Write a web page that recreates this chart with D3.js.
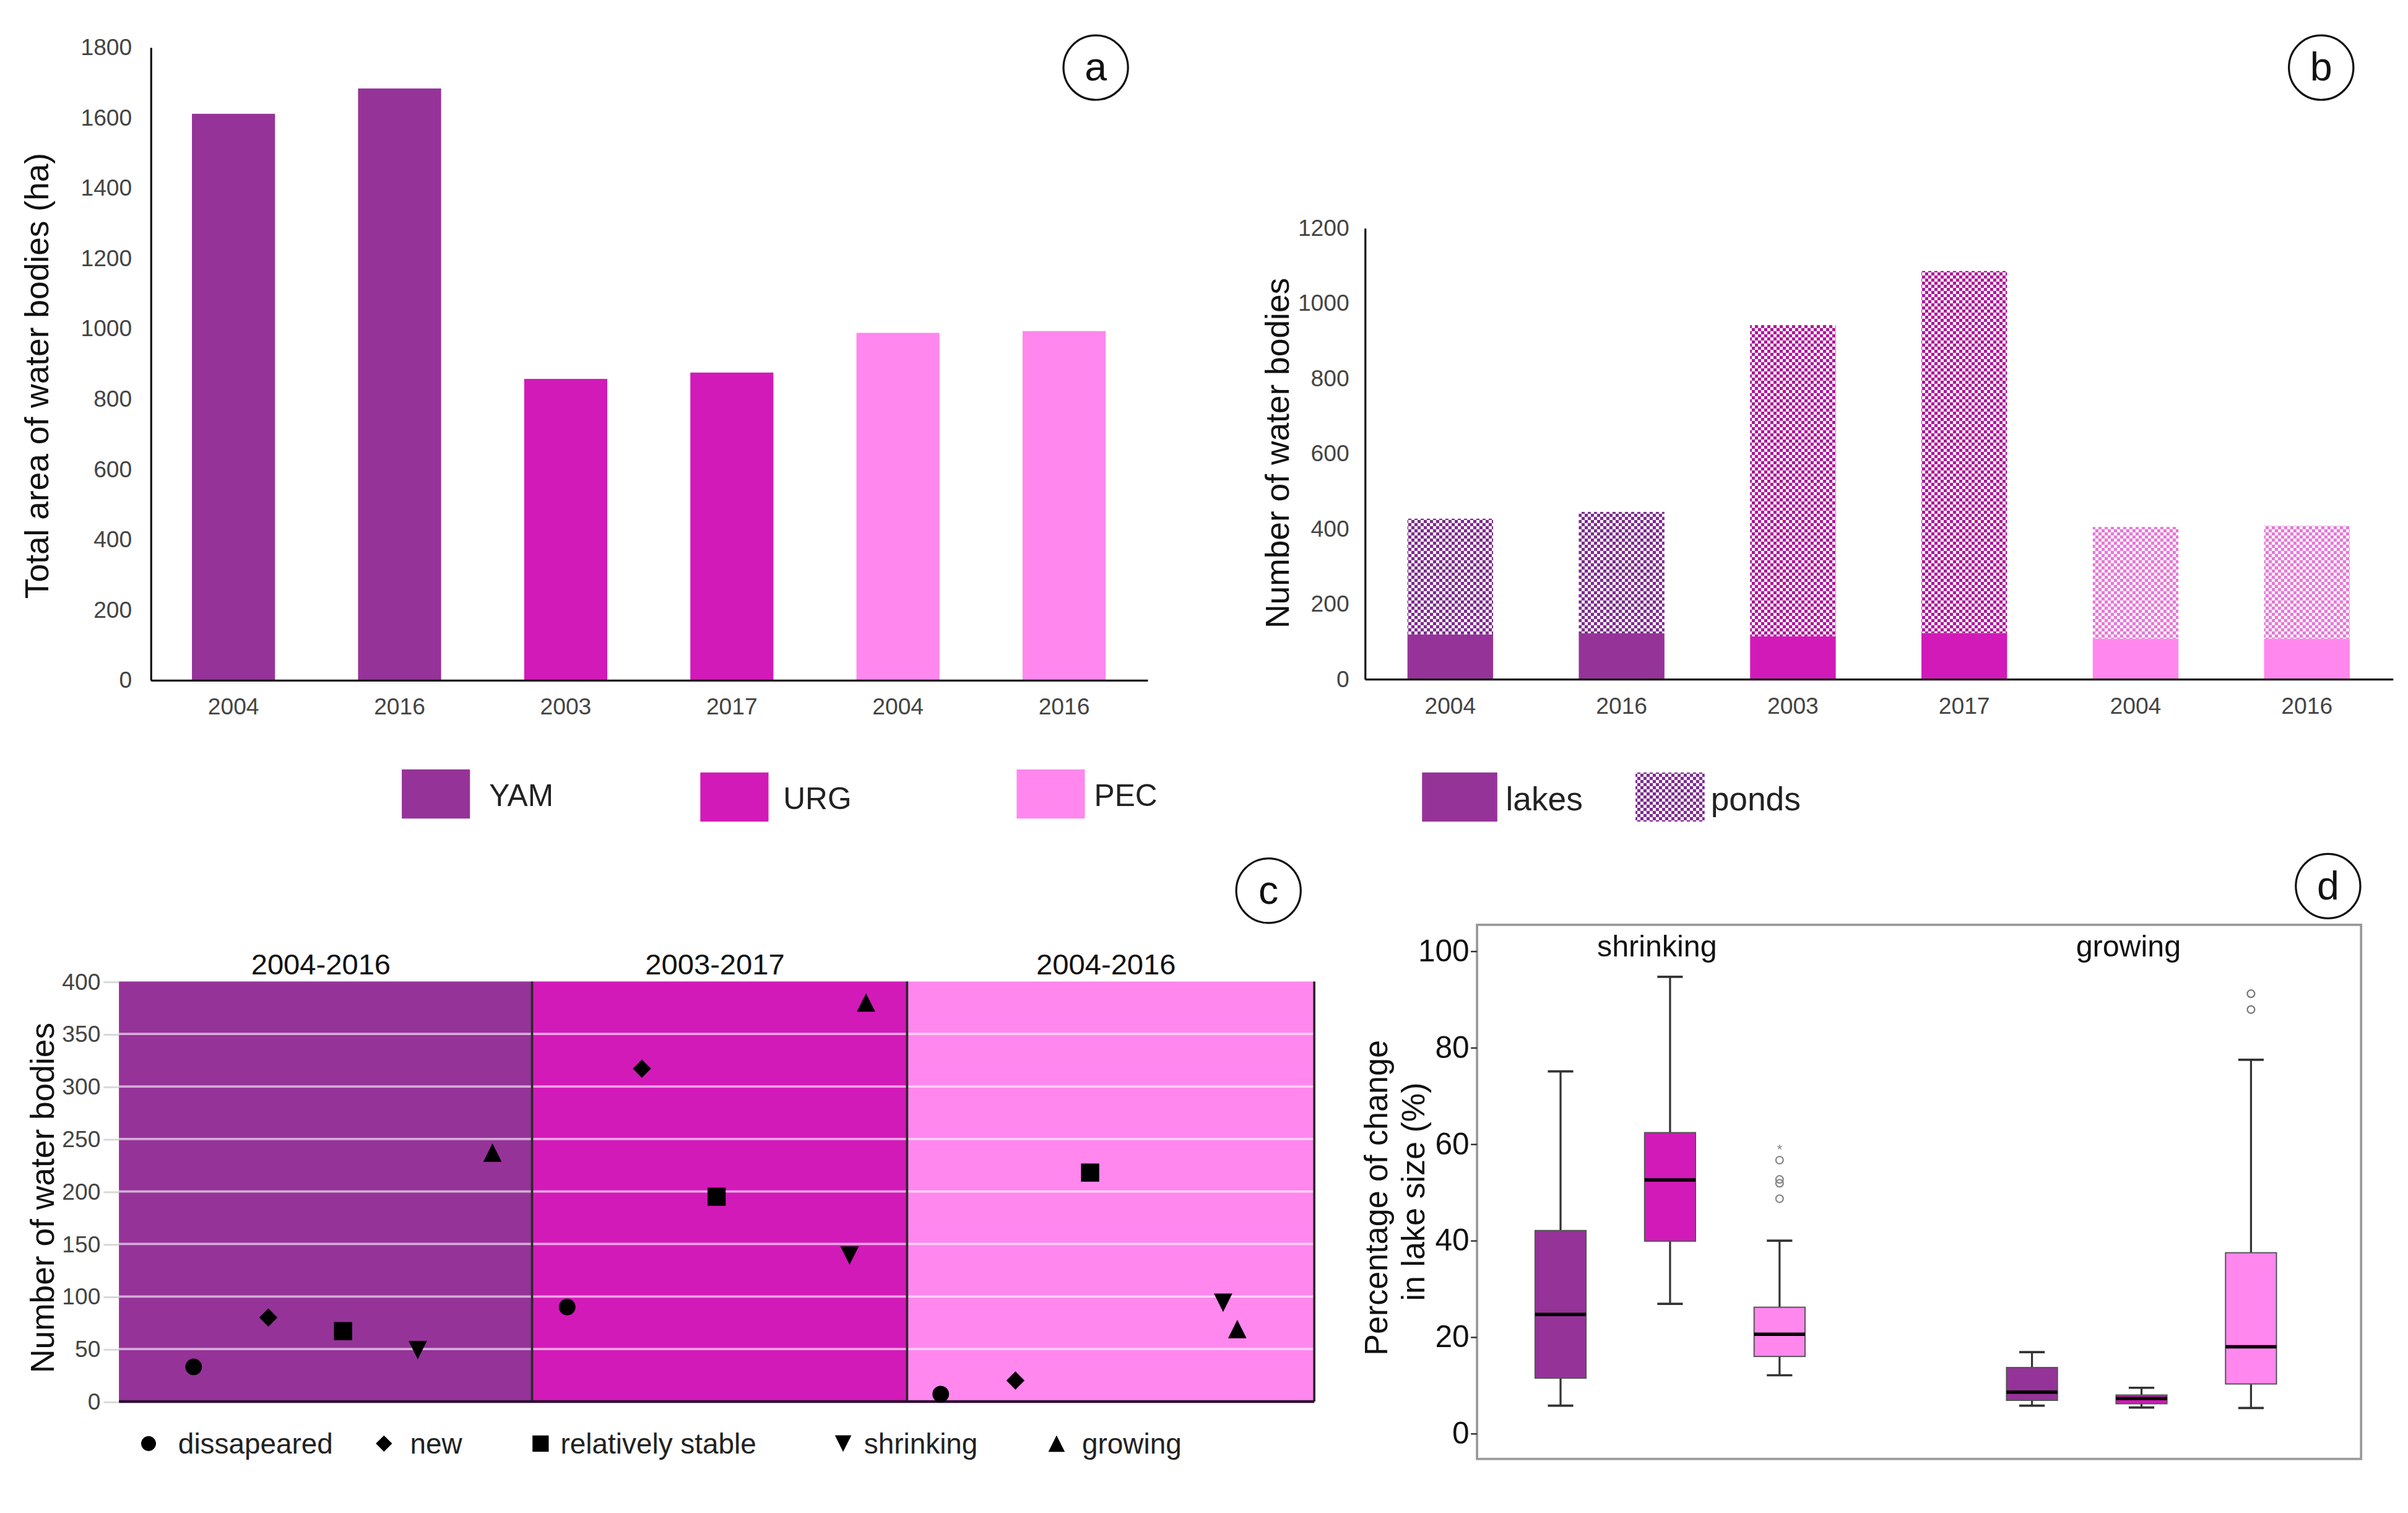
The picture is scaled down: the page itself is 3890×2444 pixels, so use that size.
<!DOCTYPE html>
<html>
<head>
<meta charset="utf-8">
<script src="https://cdn.jsdelivr.net/npm/d3@7"></script>
<style>
  html, body { margin: 0; padding: 0; background: #fff; }
  svg { display: block; font-family: "Liberation Sans", Arial, sans-serif; }
</style>
</head>
<body>
<script>
// ---- panels a and b: one bar per region and year
var years = ["2004", "2016", "2003", "2017", "2004", "2016"];
var yearRegion = ["YAM", "YAM", "URG", "URG", "PEC", "PEC"];
var regionNames = ["YAM", "URG", "PEC"];
var totalArea = [1610, 1682, 856, 874, 987, 992];          // ha
var lakeCounts = [118, 121, 113, 122, 107, 107];
var pondCounts = [308, 323, 828, 963, 297, 300];
var areaTicks = [0, 200, 400, 600, 800, 1000, 1200, 1400, 1600, 1800];
var countTicks = [0, 200, 400, 600, 800, 1000, 1200];

// ---- panel c: water bodies by change type
var periodLabels = ["2004-2016", "2003-2017", "2004-2016"];
var changeTypes = ["dissapeared", "new", "relatively stable", "shrinking", "growing"];
var yamChange = [33, 80, 67, 49, 237];
var urgChange = [90, 317, 195, 139, 380];
var pecChange = [7, 20, 218, 94, 69];
var yamOrder = [1, 2, 3, 4, 5];
var urgOrder = [6, 7, 8, 9.78, 10];
var pecOrder = [11, 12, 13, 14.78, 14.97];
var periodBreaks = [0, 5.53, 10.55, 16];
var changeTicks = [0, 50, 100, 150, 200, 250, 300, 350, 400];

// ---- panel d: box plots of % change in lake size
var boxGroup = ["shrinking", "shrinking", "shrinking", "growing", "growing", "growing"];
var boxRegion = ["YAM", "URG", "PEC", "YAM", "URG", "PEC"];
var whiskerLow = [5.7, 26.8, 12.0, 5.7, 5.3, 5.2];
var quart1 = [11.4, 39.8, 15.9, 6.8, 6.1, 10.2];
var medians = [24.6, 52.5, 20.5, 8.5, 7.2, 17.9];
var quart3 = [42.0, 62.3, 26.1, 13.6, 7.9, 37.4];
var whiskerHigh = [75.0, 94.6, 39.9, 16.8, 9.4, 77.4];
var pecShrinkOutliers = [48.6, 51.8, 52.6, 56.6];
var pecShrinkExtremes = [59.5];
var pecGrowOutliers = [87.8, 91.1];
var pctTicks = [0, 20, 40, 60, 80, 100];

var colors = {YAM: "#953399", URG: "#d21ab8", PEC: "#ff87ee"};
var checkDark = {YAM: "#7a2a8b", URG: "#ad1599", PEC: "#e477d6"};

var W = 1568, H = 985.2;
var svg = d3.select("body").append("svg")
    .attr("width", 3890).attr("height", 2444)
    .attr("viewBox", "0 0 " + W + " " + H);

// checker patterns for ponds (cell = 5 screen px)
var cell = 5 * W / 3890;
var defs = svg.append("defs");
regionNames.forEach(function (r) {
  var p = defs.append("pattern").attr("id", "check-" + r)
      .attr("patternUnits", "userSpaceOnUse").attr("width", 2 * cell).attr("height", 2 * cell);
  p.append("rect").attr("width", 2 * cell).attr("height", 2 * cell).attr("fill", "#fff4fd");
  p.append("rect").attr("width", cell).attr("height", cell).attr("fill", checkDark[r]);
  p.append("rect").attr("x", cell).attr("y", cell).attr("width", cell).attr("height", cell).attr("fill", checkDark[r]);
});

function panelLetter(x, y, t) {
  svg.append("circle").attr("cx", x).attr("cy", y).attr("r", 21)
    .attr("fill", "#fff").attr("stroke", "#111").attr("stroke-width", 1.3);
  svg.append("text").attr("x", x).attr("y", y).attr("dy", "0.33em")
    .attr("text-anchor", "middle").attr("font-size", 26).attr("fill", "#111").text(t);
}

function yTitle(x, y, t, size) {
  svg.append("text").attr("transform", "translate(" + x + "," + y + ") rotate(-90)")
    .attr("text-anchor", "middle").attr("dy", "0.35em")
    .attr("font-size", size).attr("fill", "#111").text(t);
}

function styleAxis(g, size, color) {
  g.selectAll("text").attr("font-size", size).attr("fill", color)
    .attr("font-family", "'Liberation Sans', Arial, sans-serif");
  g.select(".domain").attr("stroke", "#111").attr("stroke-width", 1.3);
}

var plain = d3.format("d");

// ================= panel a =================
(function () {
  var x = d3.scaleBand().domain(d3.range(years.length)).range([97.9, 747])
      .paddingInner(0.5).paddingOuter(0.25);
  var y = d3.scaleLinear().domain([0, 1800]).range([442.7, 30.6]);
  var g = svg.append("g");

  g.selectAll("rect.bar").data(totalArea).enter().append("rect")
    .attr("x", function (d, i) { return x(i); })
    .attr("y", function (d) { return y(d); })
    .attr("width", x.bandwidth())
    .attr("height", function (d) { return y(0) - y(d); })
    .attr("fill", function (d, i) { return colors[yearRegion[i]]; });

  var ya = g.append("g").attr("transform", "translate(97.9,0)")
    .call(d3.axisLeft(y).tickValues(areaTicks).tickFormat(plain)
      .tickSize(0).tickSizeOuter(0).tickPadding(12));
  styleAxis(ya, 15, "#444");
  var xa = g.append("g").attr("transform", "translate(0," + y(0) + ")")
    .call(d3.axisBottom(x).tickSize(0).tickPadding(12).tickFormat(function (i) { return years[i]; }));
  styleAxis(xa, 15, "#444");

  yTitle(24, 244.7, "Total area of water bodies (ha)", 21.5);
  panelLetter(713.5, 44, "a");

  // legend
  var lx = [261.6, 456, 662], ly = [501, 503, 501], tx = [318.5, 510, 712.5];
  regionNames.forEach(function (r, i) {
    g.append("rect").attr("x", lx[i]).attr("y", ly[i]).attr("width", 44.4).attr("height", 32)
      .attr("fill", colors[r]);
    g.append("text").attr("x", tx[i]).attr("y", ly[i] + 17).attr("dy", "0.35em")
      .attr("font-size", 20).attr("fill", "#222").text(r);
  });
})();

// ================= panel b =================
(function () {
  var x = d3.scaleBand().domain(d3.range(years.length)).range([888.6, 1558])
      .paddingInner(0.5).paddingOuter(0.25);
  var y = d3.scaleLinear().domain([0, 1200]).range([442, 148.3]);
  var g = svg.append("g");

  g.selectAll("rect.lake").data(lakeCounts).enter().append("rect")
    .attr("x", function (d, i) { return x(i); })
    .attr("y", function (d) { return y(d); })
    .attr("width", x.bandwidth())
    .attr("height", function (d) { return y(0) - y(d); })
    .attr("fill", function (d, i) { return colors[yearRegion[i]]; });

  g.selectAll("rect.pond").data(pondCounts).enter().append("rect")
    .attr("x", function (d, i) { return x(i); })
    .attr("y", function (d, i) { return y(d + lakeCounts[i]); })
    .attr("width", x.bandwidth())
    .attr("height", function (d, i) { return y(lakeCounts[i]) - y(d + lakeCounts[i]); })
    .attr("fill", function (d, i) { return "url(#check-" + yearRegion[i] + ")"; });

  var ya = g.append("g").attr("transform", "translate(888.6,0)")
    .call(d3.axisLeft(y).tickValues(countTicks).tickFormat(plain)
      .tickSize(0).tickSizeOuter(0).tickPadding(10));
  styleAxis(ya, 15, "#444");
  var xa = g.append("g").attr("transform", "translate(0," + y(0) + ")")
    .call(d3.axisBottom(x).tickSize(0).tickPadding(12).tickFormat(function (i) { return years[i]; }));
  styleAxis(xa, 15, "#444");

  yTitle(831.5, 295, "Number of water bodies", 21.5);
  panelLetter(1511.5, 44, "b");

  g.append("rect").attr("x", 926).attr("y", 503).attr("width", 49).attr("height", 32)
    .attr("fill", colors.YAM);
  g.append("text").attr("x", 980.5).attr("y", 520).attr("dy", "0.35em")
    .attr("font-size", 21.5).attr("fill", "#222").text("lakes");
  g.append("rect").attr("x", 1065).attr("y", 503).attr("width", 45).attr("height", 32)
    .attr("fill", "url(#check-YAM)");
  g.append("text").attr("x", 1114).attr("y", 520).attr("dy", "0.35em")
    .attr("font-size", 21.5).attr("fill", "#222").text("ponds");
})();

// ================= panel c =================
var triDown = {draw: function (ctx, size) {
  var s = Math.sqrt(size); ctx.moveTo(-s / 2, -s / 2); ctx.lineTo(s / 2, -s / 2); ctx.lineTo(0, s / 2); ctx.closePath();
}};
var triUp = {draw: function (ctx, size) {
  var s = Math.sqrt(size); ctx.moveTo(-s / 2, s / 2); ctx.lineTo(s / 2, s / 2); ctx.lineTo(0, -s / 2); ctx.closePath();
}};
var rhombus = {draw: function (ctx, size) {
  var s = Math.sqrt(size) / 2; ctx.moveTo(0, -s); ctx.lineTo(s, 0); ctx.lineTo(0, s); ctx.lineTo(-s, 0); ctx.closePath();
}};
var markerTypes = [d3.symbolCircle, rhombus, d3.symbolSquare, triDown, triUp];
var markerSizes = [92, 140, 140, 144, 144];

(function () {
  var x = d3.scaleLinear().domain([0, 16]).range([77.4, 855.8]);
  var y = d3.scaleLinear().domain([0, 400]).range([912.6, 639.1]);
  var g = svg.append("g");

  regionNames.forEach(function (r, i) {
    g.append("rect").attr("x", x(periodBreaks[i])).attr("y", y(400))
      .attr("width", x(periodBreaks[i + 1]) - x(periodBreaks[i]))
      .attr("height", y(0) - y(400)).attr("fill", colors[r]);
    g.append("text").attr("x", (x(periodBreaks[i]) + x(periodBreaks[i + 1])) / 2 - 3).attr("y", 628)
      .attr("dy", "0.35em").attr("text-anchor", "middle").attr("font-size", 19)
      .attr("fill", "#111").text(periodLabels[i]);
  });

  // grid
  g.selectAll("line.grid").data(changeTicks.filter(function (t) { return t > 0 && t < 400; }))
    .enter().append("line")
    .attr("x1", x(0)).attr("x2", x(16))
    .attr("y1", function (d) { return y(d); }).attr("y2", function (d) { return y(d); })
    .attr("stroke", "#fff").attr("stroke-opacity", 0.6).attr("stroke-width", 1.5);

  var ya = g.append("g").attr("transform", "translate(" + x(0) + ",0)")
    .call(d3.axisLeft(y).tickValues(changeTicks).tickSize(10).tickSizeOuter(0).tickPadding(2));
  styleAxis(ya, 15, "#444");
  ya.select(".domain").remove();
  ya.selectAll(".tick line").attr("stroke", "#d8d8d8").attr("stroke-width", 1.2);

  // dividers and baseline
  g.selectAll("line.div").data(periodBreaks.slice(1)).enter().append("line")
    .attr("x1", function (d) { return x(d); }).attr("x2", function (d) { return x(d); })
    .attr("y1", y(400)).attr("y2", y(0))
    .attr("stroke", "#2a2a2a").attr("stroke-width", 1.5);
  g.append("line").attr("x1", x(0)).attr("x2", x(16)).attr("y1", y(0)).attr("y2", y(0))
    .attr("stroke", "#2a1030").attr("stroke-width", 1.8);

  var series = [[yamChange, yamOrder], [urgChange, urgOrder], [pecChange, pecOrder]];
  series.forEach(function (s) {
    g.selectAll(null).data(s[0]).enter().append("path")
      .attr("transform", function (d, i) { return "translate(" + x(s[1][i]) + "," + y(d) + ")"; })
      .attr("d", function (d, i) { return d3.symbol(markerTypes[i], markerSizes[i])(); })
      .attr("fill", "#000");
  });

  yTitle(27.6, 780, "Number of water bodies", 21.5);
  panelLetter(826, 580, "c");

  // legend
  var mx = [96.7, 250, 352, 549, 688], tx = [116, 267, 365, 562.6, 704.6];
  changeTypes.forEach(function (t, i) {
    g.append("path").attr("transform", "translate(" + mx[i] + ",940)")
      .attr("d", d3.symbol(markerTypes[i], markerSizes[i] * 0.8)()).attr("fill", "#000");
    g.append("text").attr("x", tx[i]).attr("y", 940).attr("dy", "0.35em")
      .attr("font-size", 18.5).attr("fill", "#222").text(t);
  });
})();

// ================= panel d =================
(function () {
  var y = d3.scaleLinear().domain([0, 100]).range([933.2, 619.1]);
  var outer = d3.scaleBand().domain(["shrinking", "growing"]).range([934, 1548]);
  var inner = d3.scaleBand().domain(regionNames).range([0, outer.bandwidth()])
      .paddingInner(0.535).paddingOuter(0.92);
  var g = svg.append("g");
  function cx(i) { return outer(boxGroup[i]) + inner(boxRegion[i]) + inner.bandwidth() / 2; }
  var bw = inner.bandwidth(), cap = bw * 0.5;

  g.append("rect").attr("x", 961.8).attr("y", 602.2).attr("width", 575.7).attr("height", 347.8)
    .attr("fill", "none").attr("stroke", "#999").attr("stroke-width", 1.5);

  var ya = g.append("g").attr("transform", "translate(961.8,0)")
    .call(d3.axisLeft(y).tickValues(pctTicks).tickSize(4).tickSizeOuter(0).tickPadding(1));
  styleAxis(ya, 20, "#111");
  ya.select(".domain").remove();
  ya.selectAll(".tick line").attr("stroke", "#333");

  var idx = d3.range(medians.length);
  // whiskers
  g.selectAll("line.wl").data(idx).enter().append("line")
    .attr("x1", cx).attr("x2", cx)
    .attr("y1", function (i) { return y(whiskerLow[i]); })
    .attr("y2", function (i) { return y(whiskerHigh[i]); })
    .attr("stroke", "#333").attr("stroke-width", 1.3);
  [whiskerLow, whiskerHigh].forEach(function (arr) {
    g.selectAll(null).data(idx).enter().append("line")
      .attr("x1", function (i) { return cx(i) - cap / 2; })
      .attr("x2", function (i) { return cx(i) + cap / 2; })
      .attr("y1", function (i) { return y(arr[i]); })
      .attr("y2", function (i) { return y(arr[i]); })
      .attr("stroke", "#333").attr("stroke-width", 1.5);
  });
  // boxes
  g.selectAll("rect.box").data(idx).enter().append("rect")
    .attr("x", function (i) { return cx(i) - bw / 2; })
    .attr("y", function (i) { return y(quart3[i]); })
    .attr("width", bw)
    .attr("height", function (i) { return y(quart1[i]) - y(quart3[i]); })
    .attr("fill", function (i) { return colors[boxRegion[i]]; })
    .attr("stroke", "#555").attr("stroke-width", 0.8);
  g.selectAll("line.med").data(idx).enter().append("line")
    .attr("x1", function (i) { return cx(i) - bw / 2; })
    .attr("x2", function (i) { return cx(i) + bw / 2; })
    .attr("y1", function (i) { return y(medians[i]); })
    .attr("y2", function (i) { return y(medians[i]); })
    .attr("stroke", "#000").attr("stroke-width", 2.2);

  // outliers
  g.selectAll("circle.o1").data(pecShrinkOutliers).enter().append("circle")
    .attr("cx", cx(2)).attr("cy", function (d) { return y(d); }).attr("r", 2.4)
    .attr("fill", "none").attr("stroke", "#888").attr("stroke-width", 0.9);
  g.selectAll("text.o1").data(pecShrinkExtremes).enter().append("text")
    .attr("x", cx(2)).attr("y", function (d) { return y(d); }).attr("dy", "0.55em")
    .attr("text-anchor", "middle").attr("font-size", 9).attr("fill", "#888").text("*");
  g.selectAll("circle.o2").data(pecGrowOutliers).enter().append("circle")
    .attr("cx", cx(5)).attr("cy", function (d) { return y(d); }).attr("r", 2.4)
    .attr("fill", "none").attr("stroke", "#777").attr("stroke-width", 0.9);

  outer.domain().forEach(function (k) {
    g.append("text").attr("x", outer(k) + outer.bandwidth() / 2 - 8.5).attr("y", 616)
      .attr("dy", "0.35em").attr("text-anchor", "middle").attr("font-size", 19.5)
      .attr("fill", "#111").text(k);
  });

  svg.append("text").attr("transform", "translate(896,780) rotate(-90)")
    .attr("text-anchor", "middle").attr("dy", "0.35em").attr("font-size", 21)
    .attr("fill", "#111").text("Percentage of change");
  svg.append("text").attr("transform", "translate(920,776) rotate(-90)")
    .attr("text-anchor", "middle").attr("dy", "0.35em").attr("font-size", 21)
    .attr("fill", "#111").text("in lake size (%)");
  panelLetter(1516, 577, "d");
})();
</script>
</body>
</html>
